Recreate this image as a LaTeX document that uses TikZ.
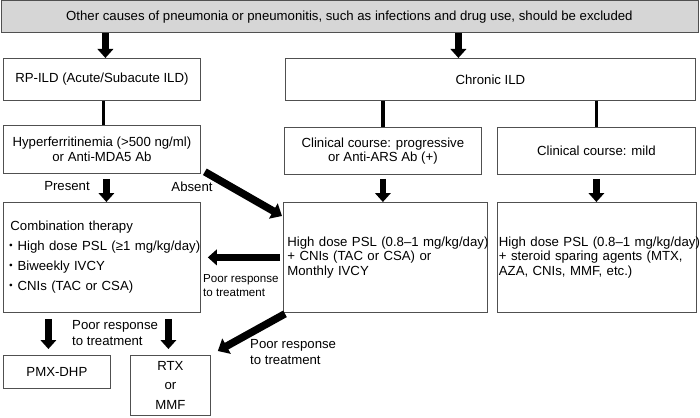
\documentclass[tikz,border=0pt]{standalone}
\usepackage{fontspec}
\setmainfont{Liberation Sans}
\newfontfamily\cjk{Noto Sans CJK JP}
\usetikzlibrary{arrows.meta,calc}
\definecolor{edge}{HTML}{505050}
\definecolor{topfill}{HTML}{D6D6D6}
\begin{document}
\begin{tikzpicture}[x=1pt,y=-1pt,
  box/.style={draw=edge, line width=0.8pt, inner sep=0pt, align=center,
    anchor=north west, font=\fontsize{13.2}{14.5}\selectfont},
  lbox/.style={box, align=left},
  lab/.style={inner sep=0pt, font=\fontsize{13.2}{16}\selectfont, align=left},
  fat/.style={line width=6.8pt, -{Triangle[width=15.5pt,length=9pt]}},
  fatd/.style={line width=7.5pt, -{Triangle[width=17pt,length=10pt]}},
  conn/.style={line width=3.5pt}]
\useasboundingbox (0,0) rectangle (700,417);
% boxes
\node[box, fill=topfill, minimum width=697pt, minimum height=32pt] (top) at (0.5,0.5)
  {Other causes of pneumonia or pneumonitis, such as infections and drug use, should be excluded};
\node[box, minimum width=197pt, minimum height=42pt] (rpild) at (3,58) {RP-ILD (Acute/Subacute ILD)};
\node[box, minimum width=410pt, minimum height=42pt] (chronic) at (285,58) {Chronic ILD};
\node[box, minimum width=197pt, minimum height=48pt] (hyper) at (3,125)
  {Hyperferritinemia (>500 ng/ml)\\or Anti-MDA5 Ab};
\node[box, minimum width=197pt, minimum height=47pt] (prog) at (284,127)
  {Clinical course: progressive\\or Anti-ARS Ab (+)};
\node[box, minimum width=198pt, minimum height=47pt] (mild) at (497,127)
  {Clinical course: mild};
\node[lbox, font=\fontsize{13.2}{20}\selectfont, inner xsep=3.5pt, text width=190pt,
  minimum height=110pt] (comb) at (3,202)
  {\mbox{\hspace*{3.5pt}Combination therapy}\\
   \mbox{\hspace*{-2.5pt}{\cjk ・}High dose PSL (≥1 mg/kg/day)}\\
   \mbox{\hspace*{-2.5pt}{\cjk ・}Biweekly IVCY}\\
   \mbox{\hspace*{-2.5pt}{\cjk ・}CNIs (TAC or CSA)}};
\node[lbox, inner xsep=4pt, text width=196pt, minimum height=110pt] (mid) at (283,202)
  {\mbox{High dose PSL (0.8–1 mg/kg/day)}\\
   \mbox{+ CNIs (TAC or CSA) or}\\
   \mbox{Monthly IVCY}};
\node[lbox, inner xsep=1.5pt, text width=196pt, minimum height=110pt] (right) at (497,202)
  {\mbox{High dose PSL (0.8–1 mg/kg/day)}\\
   \mbox{+ steroid sparing agents (MTX,}\\
   \mbox{AZA, CNIs, MMF, etc.)}};
\node[box, minimum width=107pt, minimum height=33pt] (pmx) at (3,355) {PMX-DHP};
\node[box, font=\fontsize{13.2}{19.5}\selectfont, minimum width=80pt, minimum height=60pt] (rtx) at (130,355)
  {RTX\\or\\MMF};
% labels
\node[lab] (present) at (67,186) {Present};
\node[lab] (absent) at (192,187) {Absent};
\node[lab, anchor=west, font=\fontsize{11.6}{14}\selectfont] (poor1) at (203,286) {Poor response\\to treatment};
\node[lab, anchor=west] (poor2) at (72,333) {Poor response\\to treatment};
\node[lab, anchor=west] (poor3) at (250,352) {Poor response\\to treatment};
% connectors
\draw[fat] ([xshift=3.5pt]rpild.north |- top.south) -- ([xshift=3.5pt]rpild.north);
\draw[fat] ([xshift=-32pt]chronic.north |- top.south) -- ([xshift=-32pt]chronic.north);
\draw[conn] ([xshift=1.5pt]rpild.south) -- ([xshift=1.5pt]hyper.north);
\draw[conn] (chronic.south -| prog.north) -- (prog.north);
\draw[conn] (chronic.south -| mild.north) -- (mild.north);
\draw[fat] ($(hyper.south)+(4.5,5)$) -- ([xshift=4.5pt]hyper.south |- comb.north);
\draw[fat] ($(prog.south)+(0,4)$) -- (prog.south |- mid.north);
\draw[fat] ($(mild.south)+(0,4)$) -- (mild.south |- right.north);
\draw[fatd] ($(hyper.south east)+(4,-2)$) -- ($(mid.north west)+(-1,14)$);
\draw[fat] ($(mid.west)+(-3,0)$) -- ($(mid.west -| comb.east)+(7,0)$);
\draw[fat] ($(comb.south -| pmx.north)+(-8.5,6)$) -- ($(pmx.north)+(-8.5,-6)$);
\draw[fat] ($(comb.south -| rtx.north)+(-2,6)$) -- ($(rtx.north)+(-2,-6)$);
\draw[fatd] ($(mid.south west)+(2,1)$) -- ($(rtx.north east)+(7,-4)$);
\end{tikzpicture}
\end{document}
